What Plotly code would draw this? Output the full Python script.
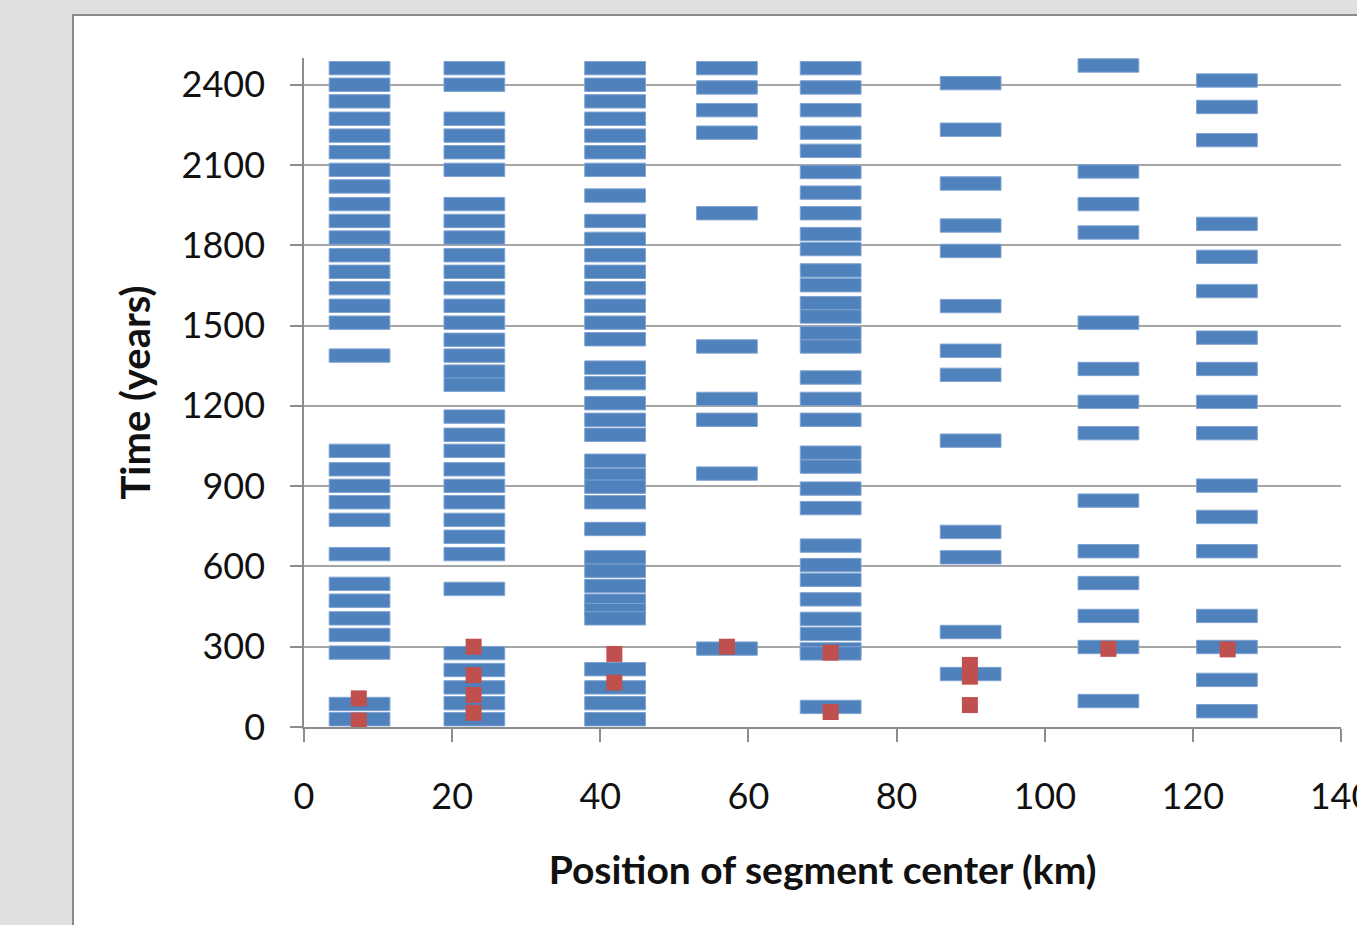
import plotly.graph_objects as go

# ---- data ----
seg_centers = [7.5, 23.0, 42.0, 57.1, 71.1, 90.0, 108.6, 124.6]

seg1_times = [2462, 2400, 2338, 2273, 2210, 2148, 2082, 2020, 1954, 1891, 1829, 1763,
              1701, 1640, 1574, 1511, 1388, 1032, 963, 901, 840, 774, 646, 535, 472,
              406, 344, 278, 86, 29]
seg2_times = [2462, 2400, 2273, 2210, 2148, 2082, 1954, 1891, 1829, 1763, 1701, 1640,
              1574, 1511, 1447, 1388, 1328, 1279, 1160, 1092, 1032, 963, 901, 840, 774,
              711, 646, 516, 276, 213, 148, 89, 29]
seg3_times = [2462, 2400, 2338, 2273, 2210, 2148, 2082, 1986, 1891, 1824, 1763, 1701,
              1640, 1574, 1511, 1449, 1343, 1285, 1210, 1148, 1092, 995, 942, 898, 840,
              740, 634, 584, 527, 472, 437, 406, 216, 148, 89, 29]
seg4_times = [2462, 2390, 2305, 2221, 1920, 1422, 1226, 1148, 947, 293]
seg5_times = [2462, 2390, 2305, 2221, 2153, 2074, 1997, 1920, 1842, 1786, 1706, 1651,
              1584, 1534, 1472, 1422, 1306, 1226, 1148, 1025, 973, 891, 818, 678, 605,
              550, 477, 404, 348, 290, 275, 75]
seg6_times = [2406, 2232, 2031, 1874, 1779, 1573, 1406, 1316, 1070, 729, 634, 355, 198]
seg7_times = [2472, 2076, 1954, 1848, 1511, 1338, 1215, 1098, 846, 657, 538, 415, 299, 97]
seg8_times = [2416, 2317, 2193, 1880, 1757, 1629, 1455, 1338, 1215, 1098, 902, 785, 657,
              415, 299, 176, 59]

red_x = [7.4, 7.4, 22.9, 22.9, 22.9, 22.9, 41.9, 41.9, 57.1, 71.1, 71.1,
         89.9, 89.9, 89.9, 108.6, 124.7]
red_t = [107, 24, 300, 194, 120, 53, 273, 166, 300, 278, 56,
         232, 188, 82, 292, 290]

x_ticks = [0, 20, 40, 60, 80, 100, 120, 140]
y_ticks = [0, 300, 600, 900, 1200, 1500, 1800, 2100, 2400]

# ---- build figure ----
all_times = [seg1_times, seg2_times, seg3_times, seg4_times,
             seg5_times, seg6_times, seg7_times, seg8_times]
bar_x, bar_t = [], []
for cx, times in zip(seg_centers, all_times):
    for t in times:
        bar_x.append(cx)
        bar_t.append(t)

DUR = 50.0      # visual thickness of an event dash (years)
WID = 8.2       # visual width of an event dash (km)

fig = go.Figure()
fig.add_trace(go.Bar(
    x=bar_x,
    y=[DUR] * len(bar_t),
    base=[t - DUR / 2 for t in bar_t],
    width=WID,
    marker=dict(color="#4F81BD", line=dict(color="#7fa3d1", width=1)),
    showlegend=False,
    hoverinfo="skip",
))
fig.add_trace(go.Scatter(
    x=red_x, y=red_t, mode="markers",
    marker=dict(symbol="square", size=16, color="#C0504D",
                line=dict(width=0)),
    showlegend=False,
))

L, R, T, B = 304, 16, 58, 198
W, H = 1357, 925
pw, ph = W - L - R, H - T - B

def px_to_paper_x(px):
    return (px - L) / pw

def px_to_paper_y(py):
    return (H - B - py) / ph

fig.add_shape(type="rect", xref="paper", yref="paper", layer="below",
              x0=px_to_paper_x(73), x1=px_to_paper_x(1400),
              y0=px_to_paper_y(960), y1=px_to_paper_y(15),
              fillcolor="white", line=dict(color="#8a8a8a", width=2))

font_family = "Lato, 'Open Sans', sans-serif"
fig.update_layout(
    width=W, height=H,
    margin=dict(l=L, r=R, t=T, b=B, autoexpand=False),
    paper_bgcolor="#e0e0e0",
    plot_bgcolor="rgba(0,0,0,0)",
    barmode="overlay",
    font=dict(family=font_family, color="#111111"),
    xaxis=dict(
        range=[0, 140], tickvals=x_ticks, ticktext=[str(v) for v in x_ticks],
        showgrid=False, zeroline=False,
        showline=True, linecolor="#8c8c8c", linewidth=1.5,
        ticks="outside", ticklen=13, tickcolor="#8c8c8c", tickwidth=1.5,
        tickfont=dict(size=36, family=font_family, color="#111111"),
        ticklabelstandoff=24, ticklabeloverflow="allow",
        title=dict(text="<b>Position of segment center (km)</b>",
                   font=dict(size=39, family=font_family, color="#111111"),
                   standoff=41),
        automargin=False,
    ),
    yaxis=dict(
        range=[0, 2500], tickvals=y_ticks, ticktext=[str(v) for v in y_ticks],
        showgrid=True, gridcolor="#a6a6a6", gridwidth=1.5, zeroline=False,
        showline=True, linecolor="#8c8c8c", linewidth=1.5,
        ticks="outside", ticklen=12, tickcolor="#8c8c8c", tickwidth=1.5,
        tickfont=dict(size=36, family=font_family, color="#111111"),
        ticklabelstandoff=18, ticklabeloverflow="allow",
        title=dict(text="<b>Time (years)</b>",
                   font=dict(size=40, family=font_family, color="#111111"),
                   standoff=19),
        automargin=False,
    ),
)

fig.write_html("out.html",
               config={"displayModeBar": False},
               post_script="document.body.style.margin='0';"
                           "document.body.style.overflow='hidden';")
